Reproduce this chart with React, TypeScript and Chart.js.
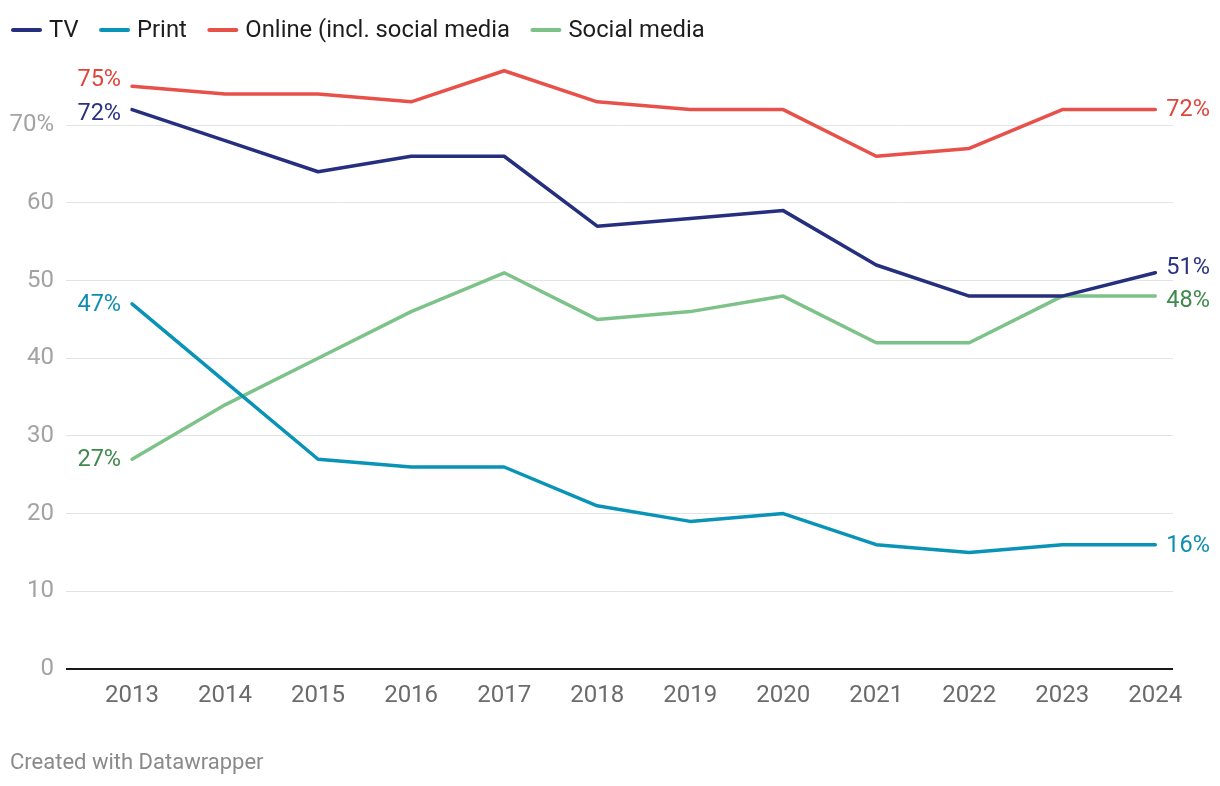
import React, { useEffect, useRef } from "react";
import { Chart, registerables } from "chart.js";

Chart.register(...registerables);

const years = [2013, 2014, 2015, 2016, 2017, 2018, 2019, 2020, 2021, 2022, 2023, 2024];
const tvValues = [72, 68, 64, 66, 66, 57, 58, 59, 52, 48, 48, 51];
const printValues = [47, 37, 27, 26, 26, 21, 19, 20, 16, 15, 16, 16];
const onlineValues = [75, 74, 74, 73, 77, 73, 72, 72, 66, 67, 72, 72];
const socialValues = [27, 34, 40, 46, 51, 45, 46, 48, 42, 42, 48, 48];
const seriesNames = ["TV", "Print", "Online (incl. social media", "Social media"];
const yTicks = [0, 10, 20, 30, 40, 50, 60, 70];

const lineColors = ["#252f7e", "#0893b7", "#e8504a", "#7dc288"];
const labelColors = ["#2a3284", "#0f8db0", "#e0453d", "#3f8a4c"];
// label vertical nudges (px) to avoid overlaps: [left, right]
const labelNudges = [
  [4, -6],
  [0, 0],
  [-7, 0],
  [0, 4],
];

const FONT = "Roboto, 'Noto Sans', sans-serif";

const decorPlugin = {
  id: "decor",
  afterDatasetsDraw(chart: any) {
    const ctx = chart.ctx;
    const xs = chart.scales.x;
    const ys = chart.scales.y;
    ctx.save();
    ctx.font = `23.5px ${FONT}`;
    ctx.textBaseline = "middle";
    chart.data.datasets.forEach((ds: any, i: number) => {
      const vals = ds.data as { x: number; y: number }[];
      const first = vals[0];
      const last = vals[vals.length - 1];
      ctx.fillStyle = labelColors[i];
      ctx.textAlign = "right";
      ctx.fillText(`${first.y}%`, xs.getPixelForValue(first.x) - 11, ys.getPixelForValue(first.y) + labelNudges[i][0] + 1);
      ctx.textAlign = "left";
      ctx.fillText(`${last.y}%`, xs.getPixelForValue(last.x) + 11, ys.getPixelForValue(last.y) + labelNudges[i][1] + 1);
    });

    // legend
    ctx.font = `23.8px ${FONT}`;
    ctx.textAlign = "left";
    ctx.textBaseline = "middle";
    let x = 11;
    const y = 30;
    seriesNames.forEach((name, i) => {
      ctx.strokeStyle = lineColors[i];
      ctx.lineWidth = 4;
      ctx.lineCap = "round";
      ctx.beginPath();
      ctx.moveTo(x + 2, y);
      ctx.lineTo(x + 29, y);
      ctx.stroke();
      ctx.fillStyle = "#1d1d1d";
      ctx.fillText(name, x + 38, y + 1);
      x += 38 + ctx.measureText(name).width + 20.5;
    });

    // footer
    ctx.font = `22px ${FONT}`;
    ctx.fillStyle = "#8a8a8a";
    ctx.textBaseline = "middle";
    ctx.fillText("Created with Datawrapper", 10, 763);
    ctx.restore();
  },
};

export default function App() {
  const ref = useRef<HTMLCanvasElement>(null);
  useEffect(() => {
    if (!ref.current) return;
    const all = [tvValues, printValues, onlineValues, socialValues];
    const chart = new Chart(ref.current, {
      type: "line",
      data: {
        datasets: all.map((vals, i) => ({
          label: seriesNames[i],
          data: years.map((yr, j) => ({ x: yr, y: vals[j] })),
          borderColor: lineColors[i],
          backgroundColor: lineColors[i],
          borderWidth: 3.5,
          pointRadius: 0,
          tension: 0,
          borderCapStyle: "round",
          borderJoinStyle: "round",
        })),
      },
      options: {
        animation: false,
        responsive: false,
        maintainAspectRatio: false,
        devicePixelRatio: 1,
        layout: { padding: { left: 0, right: 47, top: 63, bottom: 0 } },
        plugins: { legend: { display: false }, tooltip: { enabled: false } },
        scales: {
          x: {
            type: "linear",
            min: 2012.29,
            max: 2024.19,
            afterBuildTicks: (s: any) => {
              s.ticks = years.map((v) => ({ value: v }));
            },
            afterFit: (s: any) => {
              s.height = 117;
            },
            grid: { display: false, drawTicks: false },
            border: { display: false },
            ticks: {
              color: "#6b6b6b",
              font: { family: FONT, size: 24 },
              padding: 13,
              maxRotation: 0,
              autoSkip: false,
              callback: (v: any) => String(v),
            },
          },
          y: {
            type: "linear",
            min: 0,
            max: 78,
            afterBuildTicks: (s: any) => {
              s.ticks = yTicks.map((v) => ({ value: v }));
            },
            afterFit: (s: any) => {
              s.width = 66;
            },
            grid: {
              drawTicks: false,
              color: (c: any) => (c.tick && c.tick.value === 0 ? "#1a1a1a" : "#e3e3e3"),
              lineWidth: (c: any) => (c.tick && c.tick.value === 0 ? 2 : 1),
            },
            border: { display: false },
            ticks: {
              color: "#a3a3a3",
              font: { family: FONT, size: 24 },
              padding: 12,
              callback: (v: any) => (v === 70 ? "70%" : String(v)),
            },
          },
        },
      },
      plugins: [decorPlugin],
    } as any);
    return () => chart.destroy();
  }, []);
  return (
    <div style={{ position: "fixed", left: 0, top: 0, width: 1220, height: 786, background: "#fff" }}>
      <canvas ref={ref} width={1220} height={786} style={{ width: 1220, height: 786 }} />
    </div>
  );
}
